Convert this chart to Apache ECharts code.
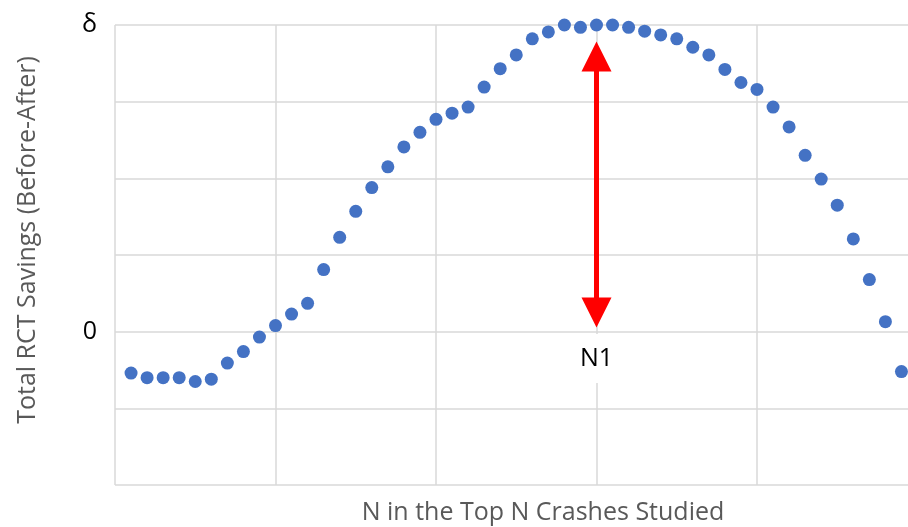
<!DOCTYPE html>
<html>
<head>
<meta charset="utf-8">
<script src="https://cdn.jsdelivr.net/npm/echarts@6/dist/echarts.min.js"></script>
<style>html,body{margin:0;padding:0;background:#fff;}#c{width:908px;height:527px;}</style>
</head>
<body>
<div id="c"></div>
<script>
// x positions (fraction of axis units) and savings values
var xValues = [0.1,0.2,0.3,0.4,0.5,0.6,0.7,0.8,0.9,1.0,1.1,1.2,1.3,1.4,1.5,1.6,1.7,1.8,1.9,2.0,2.1,2.2,2.3,2.4,2.5,2.6,2.7,2.8,2.9,3.0,3.1,3.2,3.3,3.4,3.5,3.6,3.7,3.8,3.9,4.0,4.1,4.2,4.3,4.4,4.5,4.6,4.7,4.8,4.9];
var savings = [-0.54,-0.60,-0.60,-0.60,-0.65,-0.62,-0.41,-0.26,-0.07,0.08,0.23,0.37,0.81,1.23,1.57,1.88,2.15,2.41,2.60,2.77,2.85,2.93,3.19,3.43,3.61,3.82,3.91,4.00,3.97,4.00,4.00,3.97,3.92,3.87,3.82,3.71,3.61,3.42,3.25,3.16,2.93,2.67,2.30,1.99,1.65,1.21,0.68,0.13,-0.52];
var yTickLabels = {"0": "0", "4": "δ"};
var arrowX = 3;
var arrowTop = 3.59;
var arrowBottom = 0.25;
var labelPoint = [3, -0.35];
var labelText = "N1";
var xTitle = "N in the Top N Crashes Studied";
var yTitle = "Total RCT Savings (Before-After)";

var points = xValues.map(function(x, i){ return [x, savings[i]]; });
var font = "'Open Sans', 'Noto Sans', sans-serif";

var chart = echarts.init(document.getElementById('c'), null, {renderer: 'canvas'});
chart.setOption({
  animation: false,
  backgroundColor: '#ffffff',
  grid: {left: 115, top: 25, width: 802.5, height: 460, containLabel: false, outerBoundsMode: 'none'},
  xAxis: {
    type: 'value', min: 0, max: 5, interval: 1,
    axisLine: {show: false}, axisTick: {show: false}, axisLabel: {show: false},
    splitLine: {show: true, lineStyle: {color: '#d9d9d9', width: 1.5}}
  },
  yAxis: {
    type: 'value', min: -2, max: 4, interval: 1,
    axisLine: {show: false}, axisTick: {show: false},
    axisLabel: {
      margin: 18, color: '#000000', fontSize: 25, fontFamily: font,
      formatter: function(v){ return yTickLabels[String(v)] || ''; }
    },
    splitLine: {show: true, lineStyle: {color: '#d9d9d9', width: 1.5}}
  },
  series: [
    {
      type: 'scatter', data: points, symbol: 'circle', symbolSize: 13,
      itemStyle: {color: '#4472C4', opacity: 1}, z: 3,
      markLine: {
        silent: true, symbol: ['triangle', 'triangle'], symbolSize: [30, 30],
        label: {show: false},
        lineStyle: {color: '#ff0000', width: 5, type: 'solid', opacity: 1},
        data: [[{coord: [arrowX, arrowBottom]}, {coord: [arrowX, arrowTop]}]]
      }
    },
    {
      type: 'scatter', data: [labelPoint], symbolSize: 0, silent: true, z: 2,
      itemStyle: {opacity: 1},
      label: {
        show: true, position: 'inside', formatter: labelText,
        color: '#000000', fontSize: 25, fontFamily: font,
        backgroundColor: '#ffffff', padding: [12, 24, 12, 24]
      }
    }
  ],
  graphic: [
    {type: 'text', x: 543, y: 513, style: {text: xTitle, fill: '#595959', font: "25px " + font, align: 'center', verticalAlign: 'middle'}},
    {type: 'text', x: 28, y: 240, rotation: Math.PI/2, style: {text: yTitle, fill: '#595959', font: "25px " + font, align: 'center', verticalAlign: 'middle'}}
  ]
});
</script>
</body>
</html>
